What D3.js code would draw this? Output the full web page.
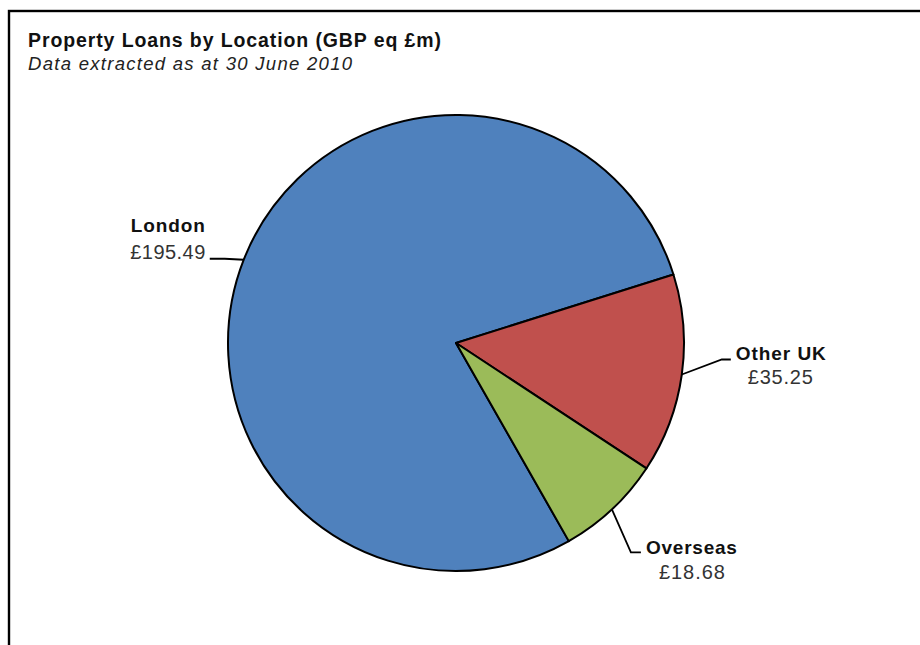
<!DOCTYPE html>
<html>
<head>
<meta charset="utf-8">
<script src="https://cdn.jsdelivr.net/npm/d3@7"></script>
<style>
  html, body { margin: 0; padding: 0; background: #fff; }
  svg { display: block; font-family: "Liberation Sans", Arial, sans-serif; }
</style>
</head>
<body>
<svg id="chart" width="920" height="645"></svg>
<script>
// Property loans by location, GBP eq £m
const categories = ["London", "Other UK", "Overseas"];
const values = [195.49, 35.25, 18.68];
const valueLabels = ["£195.49", "£35.25", "£18.68"];
const colors = ["#4F81BD", "#C0504D", "#9BBB59"];

const titleText = "Property Loans by Location (GBP eq £m)";
const subtitleText = "Data extracted as at 30 June 2010";

const W = 920, H = 645;
const cx = 456, cy = 343, radius = 228;

const svg = d3.select("#chart");

// frame (runs off the right and bottom edges)
svg.append("rect")
  .attr("x", 9).attr("y", 11)
  .attr("width", W + 20).attr("height", H + 20)
  .attr("fill", "none")
  .attr("stroke", "#000")
  .attr("stroke-width", 2.4);

// titles
svg.append("text")
  .attr("x", 28).attr("y", 47)
  .attr("font-size", 19.5).attr("font-weight", "bold")
  .attr("fill", "#111")
  .attr("textLength", 413).attr("lengthAdjust", "spacing")
  .text(titleText);

svg.append("text")
  .attr("x", 28).attr("y", 70)
  .attr("font-size", 18.5).attr("font-style", "italic")
  .attr("fill", "#222")
  .attr("textLength", 324).attr("lengthAdjust", "spacing")
  .text(subtitleText);

// pie
const rows = categories.map((c, i) => ({ name: c, value: values[i], label: valueLabels[i], color: colors[i] }));

const startDeg = 150.34;
const pie = d3.pie()
  .sort(null)
  .value(d => d.value)
  .startAngle(startDeg * Math.PI / 180)
  .endAngle(startDeg * Math.PI / 180 + 2 * Math.PI);

const arcs = pie(rows);
const arc = d3.arc().innerRadius(0).outerRadius(radius);

const g = svg.append("g").attr("transform", `translate(${cx},${cy})`);

g.selectAll("path.slice")
  .data(arcs)
  .join("path")
  .attr("class", "slice")
  .attr("d", arc)
  .attr("fill", d => d.data.color)
  .attr("stroke", "#000")
  .attr("stroke-width", 2)
  .attr("stroke-linejoin", "round");

// leader line layout: elbow and end offsets from the slice's edge point,
// plus where the label block sits relative to the line end
const leaderLayout = {
  "London":   { elbow: [-19, -1], end: [-34, -1], anchor: "middle", tx: -42, nameDy: -27, valDy: 0, valDx: 0 },
  "Other UK": { elbow: [40, -15], end: [49, -15], anchor: "start",  tx: 5,   nameDy: 0,  valDy: 25, valDx: 12 },
  "Overseas": { elbow: [19, 43],  end: [29, 43],  anchor: "start",  tx: 5,   nameDy: 2,   valDy: 27, valDx: 13 }
};
const nameWidths = { "London": 74, "Other UK": 90, "Overseas": 91 };
const valWidths = { "London": 75, "Other UK": 65, "Overseas": 66 };

arcs.forEach(d => {
  const mid = (d.startAngle + d.endAngle) / 2;
  const ex = radius * Math.sin(mid);
  const ey = -radius * Math.cos(mid);
  const L = leaderLayout[d.data.name];
  const ebx = ex + L.elbow[0], eby = ey + L.elbow[1];
  const enx = ex + L.end[0], eny = ey + L.end[1];

  g.append("polyline")
    .attr("points", `${ex},${ey} ${ebx},${eby} ${enx},${eny}`)
    .attr("fill", "none")
    .attr("stroke", "#000")
    .attr("stroke-width", 1.8);

  const tx = enx + L.tx;
  const middle = L.anchor === "middle";
  g.append("text")
    .attr("x", tx).attr("y", eny + L.nameDy)
    .attr("text-anchor", middle ? "middle" : "start")
    .attr("font-size", 19).attr("font-weight", "bold").attr("fill", "#111")
    .attr("textLength", nameWidths[d.data.name]).attr("lengthAdjust", "spacing")
    .text(d.data.name);
  g.append("text")
    .attr("x", middle ? tx : tx + L.valDx).attr("y", eny + L.valDy)
    .attr("text-anchor", middle ? "middle" : "start")
    .attr("font-size", 20).attr("fill", "#333")
    .attr("textLength", valWidths[d.data.name]).attr("lengthAdjust", "spacing")
    .text(d.data.label);
});
</script>
</body>
</html>
